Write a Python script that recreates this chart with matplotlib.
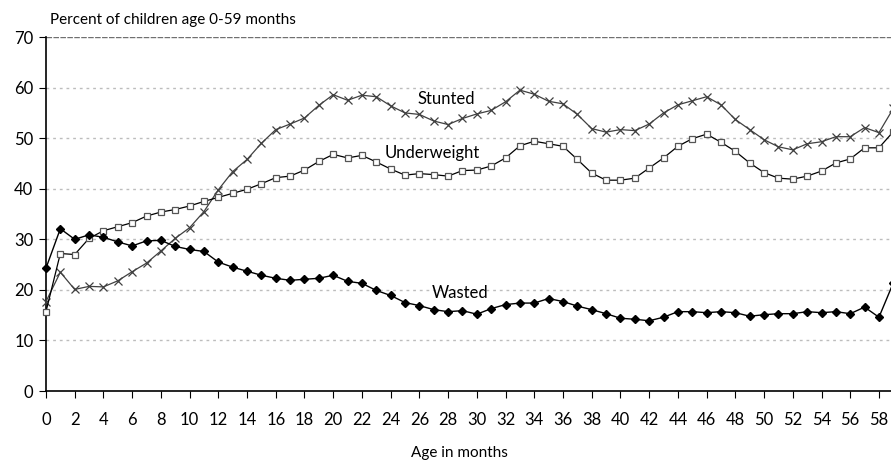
import numpy as np
import matplotlib.pyplot as plt

# age in months 0..59
months = list(range(60))

stunted = [17.7, 23.5, 20.1, 20.7, 20.6, 21.8, 23.6, 25.3, 27.7, 30.2,
           32.3, 35.5, 39.8, 43.4, 45.8, 49.0, 51.7, 52.8, 54.0, 56.5,
           58.6, 57.5, 58.5, 58.2, 56.4, 55.0, 54.7, 53.4, 52.7, 53.9,
           54.8, 55.5, 57.2, 59.5, 58.7, 57.3, 56.8, 54.7, 51.9, 51.2,
           51.7, 51.5, 52.8, 55.0, 56.6, 57.4, 58.2, 56.6, 53.7, 51.7,
           49.7, 48.3, 47.7, 48.9, 49.3, 50.3, 50.3, 52.1, 51.1, 55.9]

underweight = [15.7, 27.2, 27.0, 30.2, 31.7, 32.5, 33.3, 34.6, 35.4, 35.9,
               36.6, 37.5, 38.3, 39.1, 39.9, 41.0, 42.2, 42.5, 43.7, 45.4,
               46.8, 46.1, 46.6, 45.3, 43.9, 42.7, 43.0, 42.8, 42.5, 43.6,
               43.7, 44.5, 46.1, 48.5, 49.4, 48.9, 48.4, 45.8, 43.1, 41.7,
               41.7, 42.1, 44.1, 46.1, 48.4, 49.9, 50.8, 49.2, 47.4, 45.1,
               43.2, 42.1, 41.9, 42.5, 43.5, 45.1, 45.9, 48.1, 48.1, 51.3]

wasted = [24.3, 32.1, 30.0, 30.9, 30.4, 29.5, 28.7, 29.7, 29.8, 28.6,
          28.0, 27.6, 25.5, 24.5, 23.7, 22.9, 22.3, 21.9, 22.1, 22.3,
          22.9, 21.7, 21.3, 19.9, 18.9, 17.5, 16.9, 16.1, 15.7, 15.9,
          15.2, 16.3, 17.1, 17.4, 17.4, 18.3, 17.7, 16.8, 16.1, 15.3,
          14.4, 14.2, 13.9, 14.6, 15.7, 15.7, 15.5, 15.7, 15.5, 14.8,
          15.1, 15.3, 15.3, 15.7, 15.5, 15.7, 15.3, 16.6, 14.6, 21.4]

plt.rcParams['font.family'] = ['Lato', 'DejaVu Sans']

fig = plt.figure(figsize=(8.91, 4.65), dpi=100)
ax = fig.add_axes([0.0516, 0.159, 0.951, 0.7613])

ax.plot(months, stunted, color='#404040', lw=0.9, marker='x', ms=5.5,
        mew=0.9, clip_on=False, zorder=3)
ax.plot(months, underweight, color='black', lw=0.9, marker='s', ms=4,
        mfc='white', mec='#555555', mew=0.9, clip_on=False, zorder=3)
ax.plot(months, wasted, color='black', lw=1.0, marker='D', ms=3.8,
        mfc='black', mec='black', clip_on=False, zorder=3)

ax.set_xlim(0, 59)
ax.set_ylim(0, 70)
ax.set_xticks(range(0, 59, 2))
ax.set_yticks(range(0, 71, 10))
ax.tick_params(axis='both', direction='out', length=5, width=0.8,
               labelsize=12, colors='black')
ax.tick_params(axis='x', pad=10)
ax.tick_params(axis='y', pad=4)

for y in range(10, 70, 10):
    ax.axhline(y, color='#bdbdbd', lw=1.0, ls=(0, (2, 2.8)), zorder=1)
ax.axhline(70, color='#707070', lw=1.0, ls=(0, (4, 1)), zorder=1)

ax.spines['top'].set_visible(False)
ax.spines['right'].set_visible(False)
ax.spines['left'].set_linewidth(1.2)
ax.spines['bottom'].set_linewidth(1.2)

ax.text(27.9, 57.7, 'Stunted', fontsize=12, ha='center', va='center')
ax.text(26.9, 47.0, 'Underweight', fontsize=12, ha='center', va='center')
ax.text(28.8, 19.4, 'Wasted', fontsize=12, ha='center', va='center')

fig.text(0.056, 0.957, 'Percent of children age 0-59 months', fontsize=11,
         ha='left', va='center')
fig.text(0.516, 0.026, 'Age in months', fontsize=11, ha='center',
         va='center')

fig.savefig('out.png', dpi=100)
